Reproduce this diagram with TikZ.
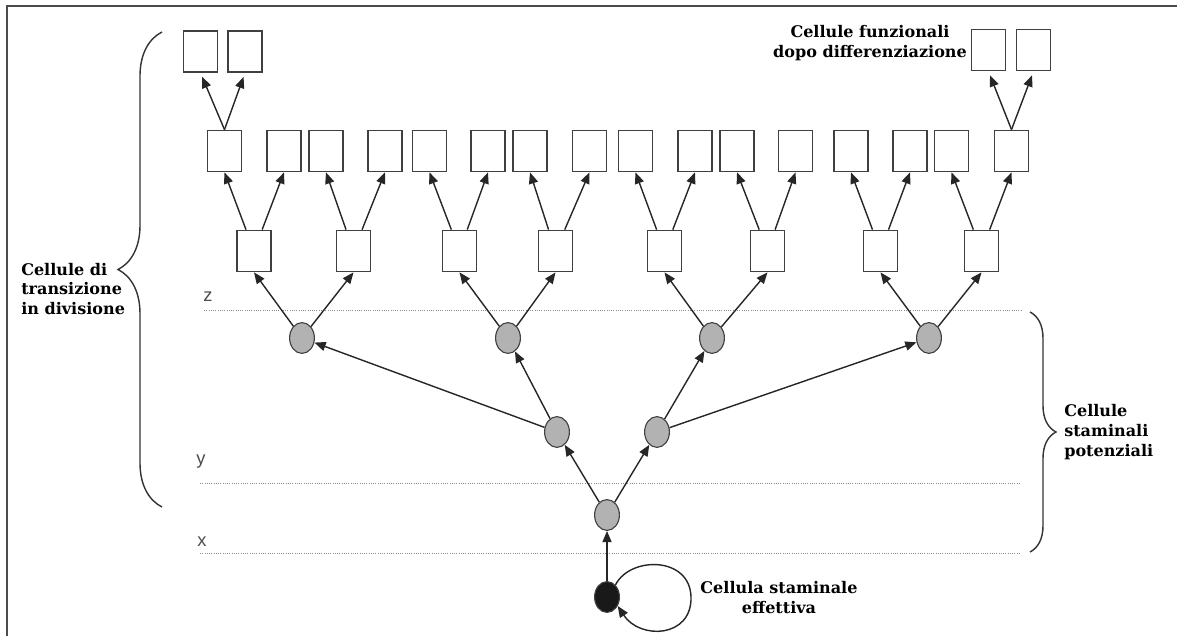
\documentclass[tikz,border=0pt]{standalone}
\usepackage{fontspec}
\setmainfont{DejaVu Serif}
\setsansfont{Liberation Sans}
\usepackage{tikz}
\usetikzlibrary{arrows.meta,decorations.pathreplacing,shapes.geometric}

\begin{document}
\begin{tikzpicture}[x=0.025cm, y=-0.025cm,
  >={Triangle[length=8pt,width=6.5pt]},
  cellbox/.style={draw=black!75, line width=1.1pt, fill=white, minimum width=0.86cm, minimum height=1.03cm, inner sep=0pt},
  stemcell/.style={ellipse, draw=black!75, line width=0.8pt, fill=black!30, minimum width=0.62cm, minimum height=0.77cm, inner sep=0pt},
  realstem/.style={stemcell, fill=black!90},
  link/.style={->, line width=1pt, black!85},
  level/.style={densely dotted, line width=0.6pt, black!45},
  lbl/.style={font=\bfseries\fontsize{11.4}{14.2}\selectfont, inner sep=0pt},
  levlbl/.style={font=\sffamily\fontsize{13}{15}\selectfont, black!70, inner sep=0pt},
  curly/.style={decorate, decoration={brace, amplitude=#1}, line width=1pt, black!80}]
\useasboundingbox (0,0) rectangle (1177,636);
\draw [black!70, line width=1.2pt] (7,636) -- (7,6) -- (1177,6);

% levels
\draw [level] (204,310.5) -- (1021,310.5); \node [levlbl] (lz) at (208,297) {z};
\draw [level] (200,483) -- (1020,483); \node [levlbl] (ly) at (201,462) {y};
\draw [level] (200,553) -- (1020,553); \node [levlbl] (lx) at (202,542) {x};

% stem cells
\node [realstem] (blk) at (607,597) {};
\node [stemcell] (g3) at (607,515) {};
\node [stemcell] (g2a) at (557,432) {};
\node [stemcell] (g2b) at (657,432) {};
\node [stemcell] (g1a) at (302,338) {};
\node [stemcell] (g1b) at (508,338) {};
\node [stemcell] (g1c) at (712,338) {};
\node [stemcell] (g1d) at (929,338) {};

% dividing cells
\foreach \x [count=\i] in {254,353.5,459.5,555.5,664.5,767.5,880.5,981.5}
  \node [cellbox] (b\i) at (\x,251) {};
\foreach \x [count=\i] in {224.5,284,326,385,429.5,488,530,589.5,635.5,695,737,795.5,851,910,951.5,1011.5}
  \node [cellbox] (c\i) at (\x,151) {};
\node [cellbox] (t1) at (200.5,51.5) {};
\node [cellbox] (t2) at (245,51.5) {};
\node [cellbox] (t3) at (988.5,50) {};
\node [cellbox] (t4) at (1033.5,50) {};

\draw [link] (blk) -- (g3);
\draw [link] (g3) -- (g2a);
\draw [link] (g3) -- (g2b);
\draw [link] (g2a) -- (g1a);
\draw [link] (g2a) -- (g1b);
\draw [link] (g2b) -- (g1c);
\draw [link] (g2b) -- (g1d);
\draw [link] (blk.55) .. controls (630,556) and (690,556) .. (691,597) .. controls (692,638) and (640,640) .. (blk.-40);

\foreach \g/\l/\r in {g1a/b1/b2, g1b/b3/b4, g1c/b5/b6, g1d/b7/b8} {
  \draw [link] (\g) -- (\l.south);
  \draw [link] (\g) -- (\r.south);
}
\foreach \i in {1,...,8} {
  \pgfmathtruncatemacro{\l}{2*\i-1}
  \pgfmathtruncatemacro{\r}{2*\i}
  \draw [link] (b\i) -- (c\l.south);
  \draw [link] (b\i) -- (c\r.south);
}
\draw [link, shorten >=3pt] (c1.north) -- (t1.south);
\draw [link, shorten >=3pt] (c1.north) -- (t2.south);
\draw [link, shorten >=3pt] (c16.north) -- (t3.south);
\draw [link, shorten >=3pt] (c16.north) -- (t4.south);

% labels
\draw [curly=1.1cm] (162,507) -- (162,32);
\draw [curly=0.65cm] (1030,312) -- (1030,552);
\node [lbl, align=left, anchor=west] (trans) at (21,289) {Cellule di\\transizione\\in divisione};
\node [lbl, align=center] (funz) at (870,43) {Cellule funzionali\\dopo differenziazione};
\node [lbl, align=left, anchor=west] (pot) at (1064,432) {Cellule\\staminali\\potenziali};
\node [lbl, align=center] (eff) at (779,598) {Cellula staminale\\effettiva};
\end{tikzpicture}
\end{document}
